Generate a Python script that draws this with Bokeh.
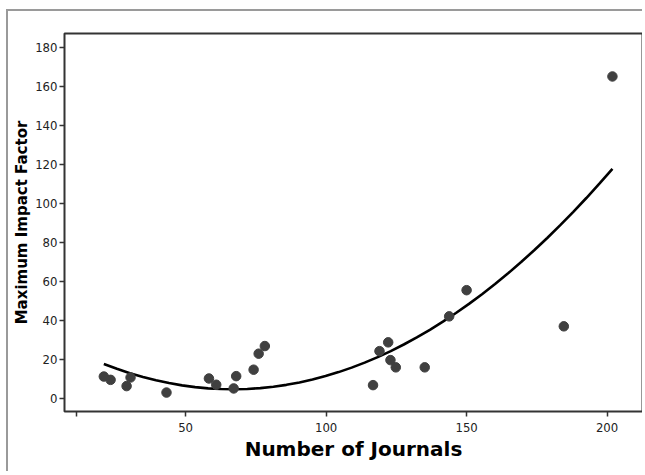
import numpy as np
from bokeh.plotting import figure
from bokeh.models import FixedTicker, Range1d
from bokeh.embed import file_html
from bokeh.resources import INLINE

# Data
journals = [20.9, 23.3, 30.4, 29.0, 43.2, 58.3, 60.9, 68.0, 67.1, 74.2, 76.0, 78.2,
            116.7, 119.0, 122.1, 122.9, 124.8, 135.1, 143.8, 150.0, 184.6, 201.9]
impact = [11.4, 9.7, 10.9, 6.5, 3.2, 10.4, 7.2, 11.6, 5.3, 14.9, 23.1, 27.0,
          7.0, 24.4, 28.9, 19.8, 16.1, 16.1, 42.2, 55.6, 37.1, 165.0]
x_ticks = [11, 50, 100, 150, 200]
y_ticks = [0, 20, 40, 60, 80, 100, 120, 140, 160, 180]

# Quadratic fit through the data (as in the reference)
coef = np.polyfit(journals, impact, 2)
fit_x = np.linspace(min(journals), max(journals), 40)
fit_y = np.polyval(coef, fit_x)

p = figure(width=636, height=462, output_backend="svg", toolbar_location=None,
           x_range=Range1d(6.9, 212.6), y_range=Range1d(-6.5, 187),
           min_border_left=56, min_border_right=2, min_border_top=22, min_border_bottom=62)
p.styles = {"border-top": "2px solid #9a9a9a", "border-left": "2px solid #9a9a9a",
            "margin-left": "6px", "margin-top": "9px"}

p.line(fit_x, fit_y, line_color="black", line_width=2.6)
p.scatter(journals, impact, size=9.5, fill_color="#404040", line_color="#404040")

p.grid.visible = False
p.outline_line_color = "#333333"
p.outline_line_width = 2

for ax in (p.xaxis[0], p.yaxis[0]):
    ax.axis_line_color = None
    ax.major_tick_line_color = "#333333"
    ax.major_tick_line_width = 1.5
    ax.major_tick_in = 0
    ax.major_tick_out = 5
    ax.minor_tick_line_color = None
    ax.major_label_text_font = "DejaVu Sans Condensed"
    ax.major_label_text_font_size = "13px"
    ax.major_label_text_color = "#222222"

p.xaxis.ticker = FixedTicker(ticks=x_ticks)
p.xaxis.major_label_overrides = {11: ""}
p.xaxis.major_label_standoff = 6
p.yaxis.ticker = FixedTicker(ticks=y_ticks)
p.yaxis.major_label_standoff = 2

p.xaxis.axis_label = "Number of Journals"
p.xaxis.axis_label_text_font = "DejaVu Sans"
p.xaxis.axis_label_text_font_style = "bold"
p.xaxis.axis_label_text_font_size = "20px"
p.xaxis.axis_label_text_color = "black"
p.xaxis.axis_label_standoff = 2

p.yaxis.axis_label = "Maximum Impact Factor"
p.yaxis.axis_label_text_font = "DejaVu Sans"
p.yaxis.axis_label_text_font_style = "bold"
p.yaxis.axis_label_text_font_size = "15px"
p.yaxis.axis_label_text_color = "black"
p.yaxis.axis_label_standoff = 1

open("out.html", "w").write(file_html(p, INLINE))
